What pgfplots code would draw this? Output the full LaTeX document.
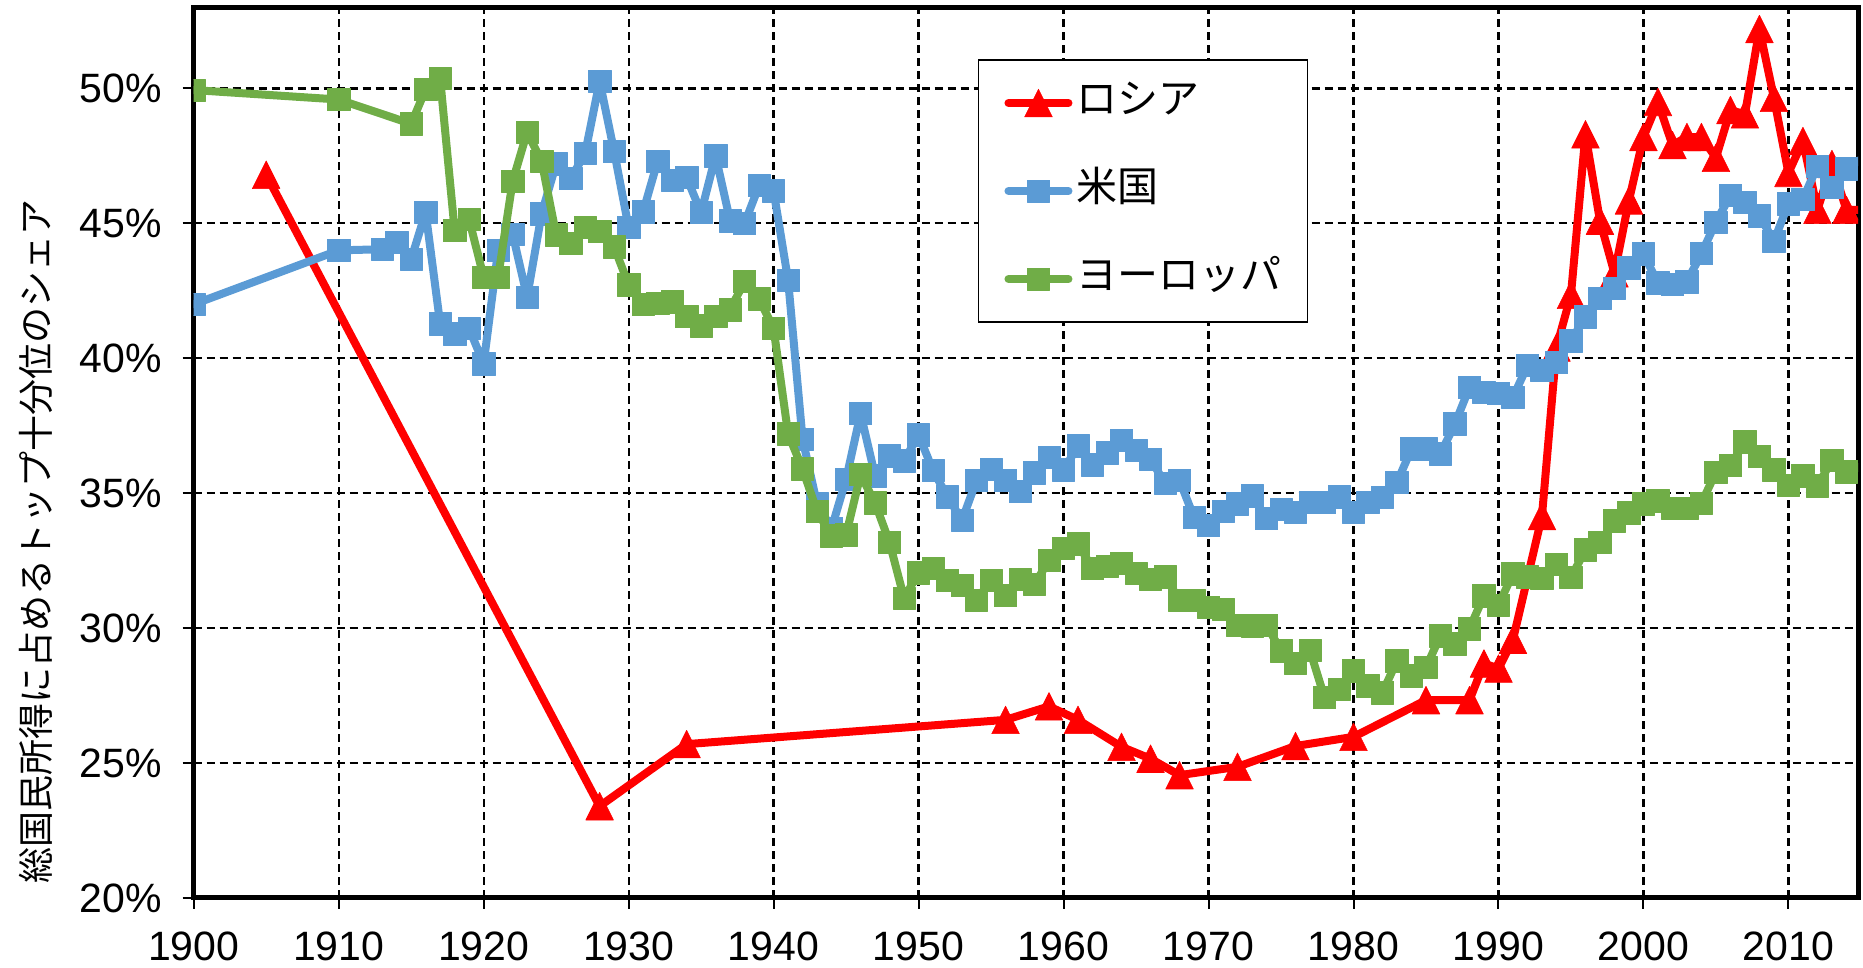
\documentclass[border=0pt]{standalone}
\usepackage{fontspec}
\setmainfont{Liberation Sans}
\newfontfamily\cjk{Noto Sans CJK JP}
\usepackage{pgfplots}
\pgfplotsset{compat=1.18}
\definecolor{ru}{HTML}{FF0000}
\definecolor{us}{HTML}{5B9BD5}
\definecolor{eu}{HTML}{70AD47}
\pgfdeclareplotmark{xltri}{%
  \pgfpathmoveto{\pgfqpoint{0pt}{\pgfplotmarksize}}%
  \pgfpathlineto{\pgfqpoint{-\pgfplotmarksize}{-\pgfplotmarksize}}%
  \pgfpathlineto{\pgfqpoint{\pgfplotmarksize}{-\pgfplotmarksize}}%
  \pgfpathclose\pgfusepathqfillstroke}
\begin{document}
\begin{tikzpicture}
\begin{axis}[
  name=ax,
  scale only axis, width=832.2pt, height=445.25pt,
  xmin=1900, xmax=2014.8, ymin=20, ymax=53,
  xtick={1900,1910,...,2010}, ytick={20,25,...,50},
  tick pos=left, tick align=outside, major tick length=5.5pt,
  tick style={black, line width=1pt},
  axis line style={black, line width=2.5pt},
  grid=major,
  major grid style={black, line width=1.1pt, dash pattern=on 4pt off 2.5pt},
  ticklabel style={font=\fontsize{20.5}{24}\selectfont},
  /pgf/number format/assume math mode=true,
  /pgf/number format/1000 sep={},
  yticklabel={\pgfmathprintnumber{\tick}\%},
  yticklabel style={xshift=-7pt},
  xticklabel style={yshift=-8pt},
  ylabel={\cjk 総国民所得に占めるトップ十分位のシェア},
  ylabel style={font=\fontsize{18}{20}\selectfont,
    at={([xshift=-78.85pt]axis description cs:0,0.4)}, anchor=center, rotate=0},
  clip marker paths=true,
  legend style={at={(0.471,0.942)}, anchor=north west, draw=black, line width=0.9pt,
    fill=white, font=\cjk\fontsize{20.5}{24}\selectfont,
    inner xsep=13pt, inner ysep=11.5pt, row sep=24pt, column sep=2pt,
    nodes={inner sep=0pt, text height=15pt, text depth=5pt}},
  legend cell align=left,
  legend image code/.code={\draw[mark repeat=2,mark phase=2,#1] plot coordinates {(0pt,0pt) (15pt,0pt) (30pt,0pt)};},
  every axis plot/.append style={line width=4pt, line join=round, line cap=round},
]
\addplot[color=ru, mark=xltri, mark size=6.9pt, mark options={solid, line width=0.3pt}] coordinates {
(1905,46.8) (1928,23.4) (1934,25.7) (1956,26.6) (1959,27.1) (1961,26.6) (1964,25.6)
(1966,25.16) (1968,24.55) (1972,24.86) (1976,25.63) (1980,25.97) (1985,27.33) (1988,27.33)
(1989,28.69) (1990,28.5) (1991,29.57) (1993,34.15) (1994,40.4) (1995,42.35) (1996,48.3)
(1997,45.1) (1998,43.15) (1999,45.85) (2000,48.2) (2001,49.5) (2002,47.9) (2003,48.2)
(2004,48.2) (2005,47.43) (2006,49.2) (2007,49.04) (2008,52.2) (2009,49.65) (2010,46.87)
(2011,48.05) (2012,45.5) (2013,47.2) (2014,45.5) (2015,45.5)
};
\addlegendentry{ロシア}
\addplot[color=us, mark=square*, mark size=5.6pt, mark options={solid, line width=0.3pt}] coordinates {
(1900,42.0) (1910,44.0) (1913,44.04) (1914,44.29) (1915,43.67) (1916,45.41) (1917,41.28)
(1918,40.91) (1919,41.1) (1920,39.8) (1921,44.0) (1922,44.6) (1923,42.27) (1924,45.36)
(1925,47.2) (1926,46.66) (1927,47.59) (1928,50.27) (1929,47.67) (1930,44.85) (1931,45.43)
(1932,47.3) (1933,46.6) (1934,46.7) (1935,45.4) (1936,47.5) (1937,45.1) (1938,45.0)
(1939,46.4) (1940,46.2) (1941,42.9) (1942,37.0) (1943,34.6) (1944,33.7) (1945,35.51)
(1946,37.95) (1947,35.65) (1948,36.38) (1949,36.2) (1950,37.16) (1951,35.84) (1952,34.86)
(1953,34.0) (1954,35.47) (1955,35.89) (1956,35.47) (1957,35.07) (1958,35.76) (1959,36.33)
(1960,35.86) (1961,36.75) (1962,36.05) (1963,36.5) (1964,36.95) (1965,36.6) (1966,36.26)
(1967,35.37) (1968,35.48) (1969,34.1) (1970,33.8) (1971,34.32) (1972,34.6) (1973,34.9)
(1974,34.06) (1975,34.4) (1976,34.3) (1977,34.66) (1978,34.66) (1979,34.87) (1980,34.3)
(1981,34.66) (1982,34.85) (1983,35.4) (1984,36.64) (1985,36.64) (1986,36.46) (1987,37.57)
(1988,38.92) (1989,38.75) (1990,38.7) (1991,38.55) (1992,39.73) (1993,39.55) (1994,39.84)
(1995,40.65) (1996,41.54) (1997,42.23) (1998,42.6) (1999,43.36) (2000,43.87) (2001,42.79)
(2002,42.74) (2003,42.84) (2004,43.88) (2005,45.05) (2006,46.03) (2007,45.78) (2008,45.28)
(2009,44.34) (2010,45.73) (2011,45.9) (2012,47.12) (2013,46.33) (2014,47.02) (2015,47.37)
};
\addlegendentry{米国}
\addplot[color=eu, mark=square*, mark size=5.6pt, mark options={solid, line width=0.3pt}] coordinates {
(1900,49.94) (1910,49.59) (1915,48.69) (1916,49.96) (1917,50.37) (1918,44.74) (1919,45.14)
(1920,43.01) (1921,43.01) (1922,46.56) (1923,48.38) (1924,47.3) (1925,44.58) (1926,44.25)
(1927,44.85) (1928,44.7) (1929,44.13) (1930,42.73) (1931,42.0) (1932,42.03) (1933,42.1)
(1934,41.55) (1935,41.2) (1936,41.55) (1937,41.8) (1938,42.85) (1939,42.2) (1940,41.1)
(1941,37.2) (1942,35.9) (1943,34.32) (1944,33.42) (1945,33.46) (1946,35.69) (1947,34.64)
(1948,33.17) (1949,31.11) (1950,32.05) (1951,32.21) (1952,31.77) (1953,31.58) (1954,31.04)
(1955,31.77) (1956,31.21) (1957,31.8) (1958,31.63) (1959,32.51) (1960,32.96) (1961,33.12)
(1962,32.21) (1963,32.29) (1964,32.4) (1965,32.04) (1966,31.82) (1967,31.9) (1968,31.04)
(1969,31.04) (1970,30.78) (1971,30.7) (1972,30.11) (1973,30.08) (1974,30.11) (1975,29.16)
(1976,28.7) (1977,29.17) (1978,27.43) (1979,27.74) (1980,28.42) (1981,27.86) (1982,27.61)
(1983,28.79) (1984,28.23) (1985,28.54) (1986,29.72) (1987,29.42) (1988,29.98) (1989,31.2)
(1990,30.85) (1991,32.02) (1992,31.9) (1993,31.84) (1994,32.37) (1995,31.88) (1996,32.9)
(1997,33.17) (1998,33.97) (1999,34.28) (2000,34.6) (2001,34.72) (2002,34.45) (2003,34.45)
(2004,34.63) (2005,35.78) (2006,36.03) (2007,36.9) (2008,36.36) (2009,35.86) (2010,35.3)
(2011,35.65) (2012,35.28) (2013,36.21) (2014,35.8) (2015,35.99)
};
\addlegendentry{ヨーロッパ}
\end{axis}
\pgfresetboundingbox
\path[use as bounding box] ([xshift=-96.85pt,yshift=-35pt]ax.south west) rectangle ([xshift=2.5pt,yshift=3.75pt]ax.north east);
\end{tikzpicture}
\end{document}
